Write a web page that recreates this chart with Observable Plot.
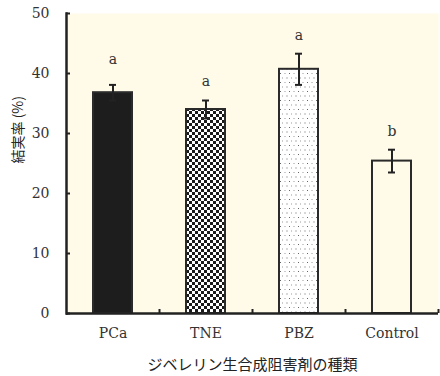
<!DOCTYPE html>
<html><head><meta charset="utf-8">
<script src="https://cdn.jsdelivr.net/npm/d3@7"></script>
<script src="https://cdn.jsdelivr.net/npm/@observablehq/plot@0.6"></script>
<style>
html,body{margin:0;padding:0;background:#fff;}
</style>
</head><body><div id="chart"></div>
<script>
const categories = ["PCa", "TNE", "PBZ", "Control"];
const means = [36.8, 34.0, 40.7, 25.4];
const errors = [1.3, 1.5, 2.6, 1.9];
const letters = ["a", "a", "a", "b"];
const letterY = [42.3, 38.7, 46.4, 30.4];
const fills = ["#1d1d1d", "url(#checker)", "url(#dots)", "none"];
const yTicks = [0, 10, 20, 30, 40, 50];
const xTitle = "ジベレリン生合成阻害剤の種類";
const yTitle = "結実率 (%)";

const rows = categories.map((c, i) => ({cat: c, mean: means[i], err: errors[i], letter: letters[i], ly: letterY[i], fill: fills[i]}));
const ink = "#222";
const serif = "DejaVu Serif";
const sans = "Noto Sans CJK JP";

const plot = Plot.plot({
  width: 440,
  height: 376,
  marginLeft: 66,
  marginRight: 2,
  marginTop: 13,
  marginBottom: 63,
  style: {fontFamily: serif, fontSize: "14px", color: ink, background: "#fff"},
  x: {domain: categories, padding: 0, label: null, axis: null},
  y: {domain: [0, 50], label: null, axis: null},
  color: {type: "identity"},
  marks: [
    Plot.frame({fill: "#fffbe8", stroke: null}),
    Plot.barY(rows, {x: "cat", y: "mean", fill: "fill", stroke: "#2a2a2a", strokeWidth: 2, insetLeft: 27, insetRight: 27}),
    Plot.ruleX(rows, {x: "cat", y1: d => d.mean - d.err, y2: d => d.mean + d.err, stroke: ink, strokeWidth: 2}),
    Plot.tickY(rows, {x: "cat", y: d => d.mean + d.err, stroke: ink, strokeWidth: 2, insetLeft: 43, insetRight: 43}),
    Plot.tickY(rows, {x: "cat", y: d => d.mean - d.err, stroke: ink, strokeWidth: 2, insetLeft: 43, insetRight: 43}),
    Plot.text(rows, {x: "cat", y: "ly", text: "letter", fontFamily: serif, fontSize: 14, fill: "#333"}),
    Plot.text(yTicks, {y: d => d, text: d => String(d), frameAnchor: "left", dx: -17, textAnchor: "end", fontFamily: serif, fontSize: 14, fill: "#333"}),
    Plot.tickY(yTicks, {y: d => d, stroke: ink, strokeWidth: 2, insetRight: 368}),
    Plot.ruleX(categories, {x: d => d, dx: 46.5, insetTop: 296, stroke: ink, strokeWidth: 2}),
    Plot.text(categories, {x: d => d, text: d => d, frameAnchor: "bottom", dy: 24, fontFamily: serif, fontSize: 14, fill: "#333"}),
    Plot.ruleY([0], {stroke: ink, strokeWidth: 2.5}),
    Plot.frame({anchor: "left", stroke: ink, strokeWidth: 2.5}),
    Plot.text([xTitle], {frameAnchor: "bottom", dy: 56, fontFamily: sans, fontSize: 15, fill: "#222"}),
    Plot.text([yTitle], {frameAnchor: "left", rotate: -90, dx: -48, fontFamily: sans, fontSize: 14, fill: "#222"})
  ]
});

const defs = d3.create("svg:defs");
const checker = defs.append("pattern").attr("id", "checker").attr("patternUnits", "userSpaceOnUse").attr("width", 6).attr("height", 6);
checker.append("rect").attr("width", 6).attr("height", 6).attr("fill", "#fff");
checker.append("rect").attr("width", 3).attr("height", 3).attr("fill", "#1a1a1a");
checker.append("rect").attr("x", 3).attr("y", 3).attr("width", 3).attr("height", 3).attr("fill", "#1a1a1a");
const dots = defs.append("pattern").attr("id", "dots").attr("patternUnits", "userSpaceOnUse").attr("width", 9).attr("height", 9);
dots.append("rect").attr("width", 9).attr("height", 9).attr("fill", "#fff");
dots.append("rect").attr("x", 1).attr("y", 1).attr("width", 1).attr("height", 1).attr("fill", "#666");
dots.append("rect").attr("x", 5.5).attr("y", 1).attr("width", 1).attr("height", 1).attr("fill", "#999");
dots.append("rect").attr("x", 3).attr("y", 5.5).attr("width", 1).attr("height", 1).attr("fill", "#999");
dots.append("rect").attr("x", 7.5).attr("y", 5.5).attr("width", 1).attr("height", 1).attr("fill", "#666");
plot.insertBefore(defs.node(), plot.firstChild);
document.getElementById("chart").appendChild(plot);
</script>
</body></html>
